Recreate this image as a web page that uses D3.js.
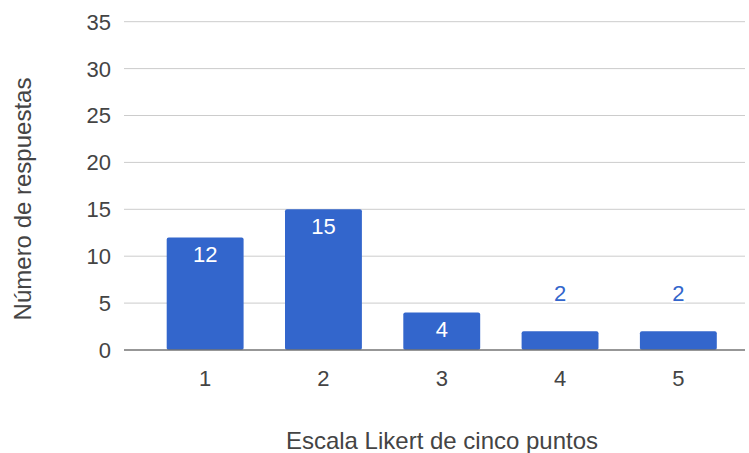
<!DOCTYPE html>
<html><head><meta charset="utf-8">
<script src="https://cdn.jsdelivr.net/npm/d3@7"></script>
<style>body{margin:0;background:#fff}svg{display:block}text{font-family:Arial,"Liberation Sans",sans-serif}</style>
</head><body>
<script>
const categories = ["1","2","3","4","5"];
const values = [12, 15, 4, 2, 2];
const yTicks = [0,5,10,15,20,25,30,35];
const xTitle = "Escala Likert de cinco puntos";
const yTitle = "Número de respuestas";

const W = 749, H = 453;
const svg = d3.select("body").append("svg").attr("width", W).attr("height", H);
const plotL = 124, plotR = 745;
const x = d3.scaleBand().domain(categories).range([146, 737.5]).paddingInner(0.35).paddingOuter(0.175);
const y = d3.scaleLinear().domain([0, 35]).range([350, 21.7]);

// gridlines
svg.append("g").selectAll("line").data(yTicks.filter(d => d > 0)).join("line")
  .attr("x1", plotL).attr("x2", plotR).attr("y1", d => y(d)).attr("y2", d => y(d))
  .attr("stroke", "#cccccc").attr("stroke-width", 1);

// y tick labels
svg.append("g").selectAll("text").data(yTicks).join("text")
  .attr("x", 111).attr("y", d => y(d)).attr("dy", "0.36em")
  .attr("text-anchor", "end").attr("font-size", 22).attr("fill", "#444444")
  .text(d => d);

// bars
svg.append("g").selectAll("rect").data(values).join("rect")
  .attr("x", (d, i) => x(categories[i])).attr("width", x.bandwidth())
  .attr("y", d => y(d)).attr("height", d => y(0) - y(d))
  .attr("rx", 2).attr("fill", "#3366cc");

// baseline
svg.append("line").attr("x1", plotL).attr("x2", plotR).attr("y1", y(0)).attr("y2", y(0))
  .attr("stroke", "#757575").attr("stroke-width", 1.5);

// data labels
svg.append("g").selectAll("text").data(values).join("text")
  .attr("x", (d, i) => x(categories[i]) + x.bandwidth() / 2)
  .attr("y", d => (y(0) - y(d)) > 30 ? y(d) + 25 : y(d) - 30)
  .attr("text-anchor", "middle").attr("font-size", 22)
  .attr("fill", d => (y(0) - y(d)) > 30 ? "#ffffff" : "#3366cc")
  .attr("stroke", d => (y(0) - y(d)) > 30 ? "none" : "#ffffff")
  .attr("stroke-width", 4).attr("paint-order", "stroke")
  .text(d => d);

// x tick labels
svg.append("g").selectAll("text").data(categories).join("text")
  .attr("x", d => x(d) + x.bandwidth() / 2).attr("y", 386)
  .attr("text-anchor", "middle").attr("font-size", 22).attr("fill", "#444444")
  .text(d => d);

// axis titles
svg.append("text").attr("x", 442).attr("y", 449).attr("text-anchor", "middle")
  .attr("font-size", 24).attr("fill", "#444444").text(xTitle);
svg.append("text").attr("transform", "translate(31,199) rotate(-90)").attr("text-anchor", "middle")
  .attr("font-size", 24).attr("fill", "#444444").text(yTitle);
</script>
</body></html>
